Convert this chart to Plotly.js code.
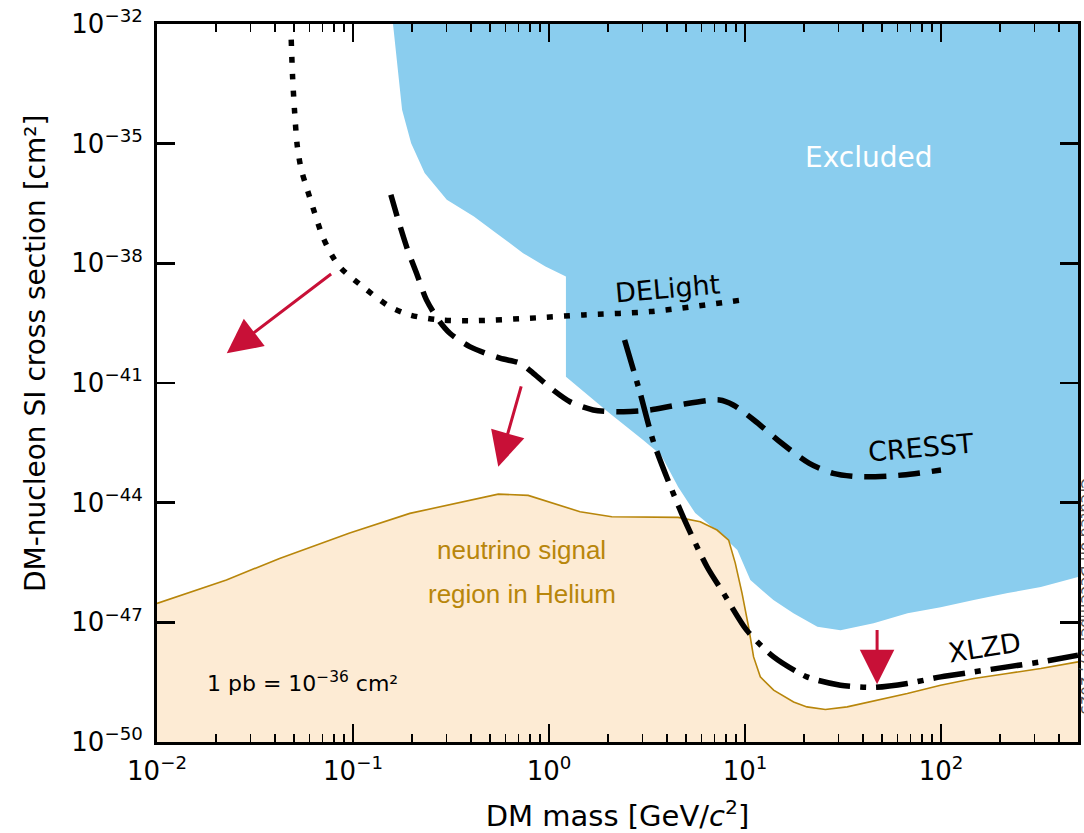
<!DOCTYPE html>
<html>
<head>
<meta charset="utf-8">
<script src="https://cdn.plot.ly/plotly-3.0.1.min.js"></script>
<style>
  html, body { margin: 0; padding: 0; background: #ffffff; }
  #chart { width: 1084px; height: 833px; }
</style>
</head>
<body>
<div id="chart"></div>
<script>
// ---- Data (mass in GeV/c^2, cross section in cm^2) ----

// Lower-left edge of the excluded parameter space
const excludedMass = [0.160, 0.169, 0.178, 0.198, 0.232, 0.301, 0.414, 0.539, 0.664, 0.738, 0.959, 1.22,
                      1.22, 2.03, 3.02, 3.73, 4.56, 5.57, 7.39, 9.14, 10.65, 13.96, 17.66, 23.4, 30.7,
                      45.3, 67.5, 99.6, 147, 219, 323, 500];
const excludedXsec = [1e-32, 8.63e-34, 7.08e-35, 1.03e-35, 1.83e-36, 3.91e-37, 1.49e-37, 5.71e-38, 2.63e-38,
                      1.80e-38, 8.30e-39, 4.66e-39, 1.44e-41, 1.77e-42, 3.72e-43, 1.57e-43, 2.47e-44, 5.49e-45,
                      1.73e-45, 6.48e-46, 1.15e-46, 3.61e-47, 1.70e-47, 7.74e-48, 6.37e-48, 9.55e-48, 1.70e-47,
                      2.40e-47, 3.61e-47, 5.41e-47, 7.65e-47, 1.36e-46];

// Upper edge of the neutrino signal region in helium
const nuMass = [0.01, 0.0226, 0.0422, 0.0760, 0.0962, 0.195, 0.287, 0.394, 0.551, 0.783, 1.44, 2.09, 3.28,
                4.56, 5.91, 7.20, 8.25, 8.92, 9.66, 10.43, 11.06, 11.97, 14.0, 17.7, 20.7, 25.7, 33.2, 45.4,
                67.3, 99.5, 147, 218, 323, 500];
const nuXsec = [2.98e-47, 1.15e-46, 4.01e-46, 1.15e-45, 1.73e-45, 5.39e-45, 8.22e-45, 1.12e-44, 1.64e-44,
                1.52e-44, 5.92e-45, 4.43e-45, 4.28e-45, 4.28e-45, 3.32e-45, 2.06e-45, 1.15e-45, 3.05e-46,
                5.31e-47, 7.71e-48, 1.36e-48, 4.29e-49, 1.99e-49, 1.01e-49, 7.59e-50, 6.53e-50, 7.59e-50,
                1.07e-49, 1.64e-49, 2.65e-49, 3.91e-49, 5.22e-49, 6.97e-49, 1.02e-48];

// DELight projected sensitivity
const delightMass = [0.0484, 0.0492, 0.0504, 0.0520, 0.0545, 0.0578, 0.0637, 0.0700, 0.0787, 0.0870,
                     0.112, 0.154, 0.195, 0.277, 0.427, 0.800, 1.50, 3.28, 9.69];
const delightXsec = [4.04e-33, 4.50e-34, 5.96e-35, 8.49e-36, 2.21e-36, 8.43e-37, 1.85e-37, 4.69e-38,
                     1.48e-38, 7.5e-39, 2.61e-39, 8.22e-40, 5.09e-40, 3.82e-40, 3.67e-40, 4.21e-40,
                     5.09e-40, 6.17e-40, 1.21e-39];

// CRESST projected sensitivity
const cresstMass = [0.156, 0.173, 0.190, 0.211, 0.237, 0.277, 0.312, 0.394, 0.562, 0.711, 0.832, 1.05,
                    1.28, 1.68, 2.40, 3.28, 4.56, 7.41, 8.71, 11.1, 15.4, 21.3, 28.2, 39.2, 63.7, 100];
const cresstXsec = [5.21e-37, 9.23e-38, 2.18e-38, 5.66e-39, 1.21e-39, 3.46e-40, 1.77e-40, 8.17e-41,
                    4.18e-41, 3.13e-41, 1.75e-41, 6.68e-42, 3.40e-42, 2.11e-42, 1.91e-42, 2.11e-42,
                    2.81e-42, 3.75e-42, 2.81e-42, 1.18e-42, 3.08e-43, 9.68e-44, 5.44e-44, 4.47e-44,
                    4.93e-44, 6.58e-44];

// XLZD projected sensitivity
const xlzdMass = [2.43, 2.92, 3.43, 4.75, 6.40, 7.78, 10.2, 14.0, 20.7, 30.7, 45.4, 67.3,
                  99.6, 147, 218, 323, 500];
const xlzdXsec = [1.20e-40, 5.53e-42, 3.08e-43, 5.39e-45, 2.47e-46, 5.31e-47,
                  6.37e-48, 1.36e-48, 4.29e-49, 2.65e-49, 2.33e-49, 2.93e-49, 4.29e-49, 5.73e-49,
                  7.64e-49, 1.02e-48, 1.50e-48];

// Arrows pointing towards the unexplored parameter space (tail -> head)
const arrowTailMass = [0.0787, 0.725, 47.2];
const arrowTailXsec = [5.77e-39, 8.93e-42, 7.03e-48];
const arrowHeadMass = [0.0227, 0.551, 47.2];
const arrowHeadXsec = [5.57e-41, 7.96e-44, 2.81e-49];

// Axis ticks
const xTickVals = [0.01, 0.1, 1, 10, 100];
const xTickText = ['10<sup>\u22122</sup>', '10<sup>\u22121</sup>', '10<sup>0</sup>', '10<sup>1</sup>', '10<sup>2</sup>'];
const yTickVals = [1e-50, 1e-47, 1e-44, 1e-41, 1e-38, 1e-35, 1e-32];
const yTickText = ['10<sup>\u221250</sup>', '10<sup>\u221247</sup>', '10<sup>\u221244</sup>', '10<sup>\u221241</sup>',
                   '10<sup>\u221238</sup>', '10<sup>\u221235</sup>', '10<sup>\u221232</sup>'];

// ---- Drawing ----
const X_MAX = 500, Y_MIN = 1e-50, Y_MAX = 1e-32;
const lg = Math.log10;

const xMinor = [];
for (let d = -2; d <= 2; d++) {
  for (let k = 2; k <= 9; k++) {
    const v = k * Math.pow(10, d);
    if (v <= X_MAX) xMinor.push(v);
  }
}

const traces = [
  { // excluded region
    x: excludedMass.concat([X_MAX]),
    y: excludedXsec.concat([Y_MAX]),
    mode: 'lines', fill: 'toself', fillcolor: '#8ACDEE',
    line: { width: 0, color: '#8ACDEE' }, hoverinfo: 'skip'
  },
  { // neutrino region fill
    x: nuMass.concat([X_MAX, nuMass[0]]),
    y: nuXsec.concat([Y_MIN, Y_MIN]),
    mode: 'lines', fill: 'toself', fillcolor: '#FDEBD4',
    line: { width: 0, color: '#FDEBD4' }, hoverinfo: 'skip'
  },
  { // neutrino region edge
    x: nuMass, y: nuXsec, mode: 'lines',
    line: { width: 1.6, color: '#B8860B' }, hoverinfo: 'skip'
  },
  { // DELight
    x: delightMass, y: delightXsec, mode: 'lines',
    line: { width: 5.5, color: '#000', dash: '6px,11px', shape: 'spline', smoothing: 0.8 }, hoverinfo: 'skip'
  },
  { // CRESST
    x: cresstMass, y: cresstXsec, mode: 'lines',
    line: { width: 5.5, color: '#000', dash: '22px,12px', shape: 'spline', smoothing: 0.8 }, hoverinfo: 'skip'
  },
  { // XLZD
    x: xlzdMass, y: xlzdXsec, mode: 'lines',
    line: { width: 5.5, color: '#000', dash: '32px,10px,6px,10px', shape: 'spline', smoothing: 0.7 }, hoverinfo: 'skip'
  }
];

const labelFont = { family: 'DejaVu Sans', size: 27, color: '#000' };
const nuFont = { family: 'Liberation Sans', size: 26, color: '#B8860B' };
const annotations = [
  { x: lg(42.7), y: lg(4.43e-36), text: 'Excluded', font: { family: 'DejaVu Sans', size: 28, color: '#ffffff' } },
  { x: lg(4.03), y: lg(2.29e-39), text: 'DELight', textangle: -5, font: labelFont },
  { x: lg(78.7), y: lg(2.48e-43), text: 'CRESST', textangle: -5, font: labelFont },
  { x: lg(167), y: lg(2.40e-48), text: 'XLZD', textangle: -9, font: labelFont },
  { x: lg(0.724), y: lg(6.47e-46), text: 'neutrino signal', font: nuFont },
  { x: lg(0.724), y: lg(5.09e-47), text: 'region in Helium', font: nuFont },
  { x: lg(0.0555), y: lg(3.2e-49), text: '1 pb = 10<sup>\u221236</sup> cm\u00b2', font: { family: 'DejaVu Sans', size: 22, color: '#000' } }
].map(a => Object.assign({ xref: 'x', yref: 'y', showarrow: false, xanchor: 'center', yanchor: 'middle' }, a));

for (let i = 0; i < arrowTailMass.length; i++) {
  annotations.push({
    xref: 'x', yref: 'y', axref: 'x', ayref: 'y',
    x: lg(arrowHeadMass[i]), y: lg(arrowHeadXsec[i]),
    ax: lg(arrowTailMass[i]), ay: lg(arrowTailXsec[i]),
    text: '', showarrow: true, arrowhead: 2, arrowsize: 2.3, arrowwidth: 3,
    arrowcolor: '#C81037', standoff: 0, startstandoff: 0
  });
}

// y-axis title, set as rotated text beside the tick labels
annotations.push({
  xref: 'paper', yref: 'paper', x: -0.132, y: 0.541, textangle: -90, showarrow: false,
  text: 'DM-nucleon SI cross section [cm\u00b2]',
  font: { family: 'DejaVu Sans', size: 28, color: '#000' }, xanchor: 'center', yanchor: 'middle'
});

// side notes outside the axes
annotations.push({
  xref: 'paper', yref: 'paper', x: 1.008, y: 0.203, text: 'Created on December 07, 2023',
  textangle: 90, showarrow: false, font: { family: 'DejaVu Sans', size: 15, color: '#555555' },
  xanchor: 'center', yanchor: 'middle'
});
annotations.push({
  xref: 'paper', yref: 'paper', x: 0.98, y: -0.128, text: '27', showarrow: false,
  font: { family: 'DejaVu Sans', size: 22, color: '#9a9a9a' }, xanchor: 'center', yanchor: 'top'
});

const axisCommon = {
  type: 'log', tickmode: 'array', ticks: 'inside', ticklen: 18, tickwidth: 2.5, tickcolor: '#000',
  showline: true, linewidth: 3, linecolor: '#000', mirror: 'allticks',
  showgrid: false, zeroline: false,
  tickfont: { family: 'DejaVu Sans', size: 26, color: '#000' }
};

const layout = {
  width: 1084, height: 833,
  margin: { l: 157, r: 6, t: 24, b: 91, pad: 0 },
  paper_bgcolor: '#ffffff', plot_bgcolor: '#ffffff',
  showlegend: false,
  xaxis: Object.assign({}, axisCommon, {
    range: [-2, lg(X_MAX)], tickvals: xTickVals, ticktext: xTickText, ticklabelstandoff: 4,
    minor: { tickmode: 'array', tickvals: xMinor, ticks: 'inside', ticklen: 8, tickwidth: 1.5, tickcolor: '#000', showgrid: false },
    title: { text: 'DM mass [GeV/<i>c</i><sup>2</sup>]', font: { family: 'DejaVu Sans', size: 29, color: '#000' }, standoff: 21 }
  }),
  yaxis: Object.assign({}, axisCommon, {
    range: [-50, -32], tickvals: yTickVals, ticktext: yTickText, ticklabelstandoff: 6
  }),
  annotations: annotations
};

Plotly.newPlot('chart', traces, layout, { displayModeBar: false, staticPlot: true });
</script>
</body>
</html>
